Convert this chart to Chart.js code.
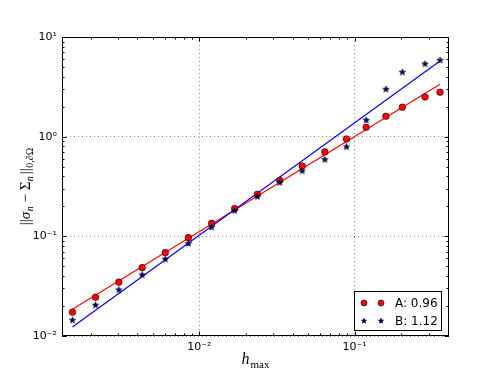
<!DOCTYPE html>
<html>
<head>
<meta charset="utf-8">
<script src="https://cdn.jsdelivr.net/npm/chart.js@4/dist/chart.umd.min.js"></script>
<style>
  body { margin: 0; background: #fff; }
  canvas { display: block; }
</style>
</head>
<body>
<canvas id="convChart" width="498" height="374"></canvas>
<script>
// mesh sizes and errors
const hMax = [0.001525, 0.002147, 0.003034, 0.004289, 0.00604, 0.00851, 0.01202, 0.0169, 0.02367,
              0.0330, 0.0460, 0.0644, 0.0888, 0.1189, 0.1594, 0.2032, 0.2845, 0.3556];
const errA = [0.01733, 0.02449, 0.0347, 0.0485, 0.0686, 0.0970, 0.1352, 0.1897, 0.264,
              0.365, 0.508, 0.703, 0.948, 1.241, 1.603, 1.973, 2.50, 2.79];
const errB = [0.01439, 0.0204, 0.0290, 0.0410, 0.0589, 0.0845, 0.1233, 0.1808, 0.250,
              0.346, 0.453, 0.588, 0.789, 1.462, 2.99, 4.43, 5.36, 5.84];
// fitted lines, values at first and last h
const fitA = [0.01857, 3.36];
const fitB = [0.01234, 5.74];
const seriesNames = ['A', 'B'];
const slopes = ['0.96', '1.12'];

const xTicks = [0.002, 0.003, 0.004, 0.005, 0.006, 0.007, 0.008, 0.009,
                0.01, 0.02, 0.03, 0.04, 0.05, 0.06, 0.07, 0.08, 0.09,
                0.1, 0.2, 0.3, 0.4];
const yTicks = [0.01, 0.02, 0.03, 0.04, 0.05, 0.06, 0.07, 0.08, 0.09,
                0.1, 0.2, 0.3, 0.4, 0.5, 0.6, 0.7, 0.8, 0.9,
                1, 2, 3, 4, 5, 6, 7, 8, 9, 10];
const supLabels = { '-2': '10⁻²', '-1': '10⁻¹', '0': '10⁰', '1': '10¹' };

const isMajor = (v) => {
    const l = Math.log10(v);
    return Math.abs(l - Math.round(l)) < 1e-9;
};

// filled five point star used as marker
const makeStar = (r, fill) => {
    const c = document.createElement('canvas');
    const s = Math.ceil(r * 2 + 2);
    c.width = s; c.height = s;
    const g = c.getContext('2d');
    g.beginPath();
    for (let i = 0; i < 10; i++) {
        const rr = i % 2 === 0 ? r : r * 0.42;
        const a = -Math.PI / 2 + i * Math.PI / 5;
        const px = s / 2 + rr * Math.cos(a), py = s / 2 + rr * Math.sin(a);
        if (i === 0) g.moveTo(px, py); else g.lineTo(px, py);
    }
    g.closePath();
    g.fillStyle = fill;
    g.fill();
    g.lineWidth = 0.6;
    g.strokeStyle = '#000';
    g.stroke();
    return c;
};
const starImg = makeStar(3.4, '#000080');
const starSmall = makeStar(2.8, '#000080');

const pts = (ys) => ys.map((y, i) => ({ x: hMax[i], y: y }));
const endPts = (f) => [{ x: hMax[0], y: f[0] }, { x: hMax[hMax.length - 1], y: f[1] }];

const decorations = {
    id: 'decorations',
    afterDraw(chart) {
        const { ctx, chartArea: a, scales: { x, y } } = chart;
        ctx.save();
        ctx.strokeStyle = '#000';
        ctx.lineWidth = 1;
        ctx.beginPath();
        xTicks.forEach(v => {
            const px = Math.round(x.getPixelForValue(v)) + 0.5;
            const len = isMajor(v) ? 4.5 : 2.5;
            ctx.moveTo(px, a.bottom); ctx.lineTo(px, a.bottom - len);
            ctx.moveTo(px, a.top); ctx.lineTo(px, a.top + len);
        });
        yTicks.forEach(v => {
            const py = Math.round(y.getPixelForValue(v)) + 0.5;
            const len = isMajor(v) ? 4.5 : 2.5;
            ctx.moveTo(a.left, py); ctx.lineTo(a.left + len, py);
            ctx.moveTo(a.right, py); ctx.lineTo(a.right - len, py);
        });
        ctx.stroke();
        ctx.strokeRect(Math.round(a.left) + 0.5, Math.round(a.top) + 0.5,
                       Math.round(a.right - a.left) - 1, Math.round(a.bottom - a.top) - 1);

        // x title: h_max
        ctx.fillStyle = '#000';
        ctx.textBaseline = 'alphabetic';
        ctx.textAlign = 'left';
        const fMain = 'italic 16px "Liberation Serif"';
        const fSub = '11px "Liberation Serif"';
        ctx.font = fMain; const wh = ctx.measureText('h').width;
        ctx.font = fSub; const wm = ctx.measureText('max').width;
        let cx = (a.left + a.right) / 2 - (wh + wm + 1) / 2;
        ctx.font = fMain; ctx.fillText('h', cx, 364);
        ctx.font = fSub; ctx.fillText('max', cx + wh + 1, 368);

        // y title: ||sigma_n - Sigma_n||_{0,dOmega}
        ctx.save();
        ctx.translate(30, (a.top + a.bottom) / 2);
        ctx.rotate(-Math.PI / 2);
        // [text, font, baseline shift, extra gap after]
        const parts = [
            ['||', '15px "Liberation Serif"', 0, 0],
            ['σ', 'italic 15px "Liberation Serif"', 0, 0.5],
            ['n', 'italic 10px "Liberation Serif"', 3, 0],
            [' − ', '15px "Liberation Serif"', 0, 0],
            ['Σ', '15px "Liberation Serif"', 0, 0.5],
            ['n', 'italic 10px "Liberation Serif"', 3, 2],
            ['||', '15px "Liberation Serif"', 0, 0.5],
            ['0,∂Ω', '10px "Liberation Serif"', 3, 0]
        ];
        let total = 0;
        parts.forEach(p => { ctx.font = p[1]; total += ctx.measureText(p[0]).width + p[3]; });
        let tx = -total / 2;
        parts.forEach(p => {
            ctx.font = p[1];
            ctx.fillText(p[0], tx, p[2]);
            tx += ctx.measureText(p[0]).width + p[3];
        });
        ctx.restore();

        // legend box, lower right
        const bx = 354.5, by = 291.5, bw = 87, bh = 39;
        ctx.fillStyle = '#fff';
        ctx.fillRect(bx, by, bw, bh);
        ctx.strokeRect(bx, by, bw, bh);
        ctx.font = '12px "DejaVu Sans"';
        ctx.textBaseline = 'middle';
        const rows = [303, 321];
        [0, 1].forEach(i => {
            [364, 381].forEach(mx => {
                if (i === 0) {
                    ctx.beginPath();
                    ctx.arc(mx, rows[i], 3, 0, Math.PI * 2);
                    ctx.fillStyle = '#ff0000';
                    ctx.fill();
                    ctx.lineWidth = 0.6;
                    ctx.stroke();
                } else {
                    ctx.drawImage(starSmall, mx - starSmall.width / 2, rows[i] - starSmall.height / 2);
                }
            });
            ctx.fillStyle = '#000';
            ctx.fillText(seriesNames[i] + ': ' + slopes[i], 395, rows[i] + 1);
        });
        ctx.restore();
    }
};

const tickFont = { family: 'DejaVu Sans', size: 11 };

new Chart(document.getElementById('convChart'), {
    type: 'scatter',
    data: {
        datasets: [
            {
                label: seriesNames[1],
                data: pts(errB),
                pointStyle: starImg,
                pointRadius: 4
            },
            {
                label: seriesNames[0],
                data: pts(errA),
                pointStyle: 'circle',
                pointRadius: 3.3,
                backgroundColor: '#ff0000',
                borderColor: '#000',
                borderWidth: 0.6
            },
            {
                type: 'line',
                data: endPts(fitB),
                borderColor: '#0000ff',
                borderWidth: 1.2,
                pointRadius: 0
            },
            {
                type: 'line',
                data: endPts(fitA),
                borderColor: '#ff0000',
                borderWidth: 1.2,
                pointRadius: 0
            }
        ]
    },
    options: {
        responsive: false,
        animation: false,
        layout: { padding: { left: 0, right: 49, top: 37, bottom: 0 } },
        plugins: {
            legend: { display: false },
            tooltip: { enabled: false }
        },
        scales: {
            x: {
                type: 'logarithmic',
                min: 0.001306,
                max: 0.406,
                afterBuildTicks: (s) => { s.ticks = xTicks.map(v => ({ value: v })); },
                afterFit: (s) => { s.height = 38; },
                ticks: {
                    autoSkip: false,
                    maxRotation: 0,
                    padding: 5,
                    color: '#000',
                    font: tickFont,
                    callback: (v) => isMajor(v) ? supLabels[String(Math.round(Math.log10(v)))] : ''
                },
                grid: {
                    drawTicks: false,
                    lineWidth: 1,
                    color: (c) => (c.tick && isMajor(c.tick.value)) ? '#888' : 'rgba(0,0,0,0)'
                },
                border: { display: false, dash: [1, 3] }
            },
            y: {
                type: 'logarithmic',
                min: 0.01,
                max: 10,
                afterBuildTicks: (s) => { s.ticks = yTicks.map(v => ({ value: v })); },
                afterFit: (s) => { s.width = 62; },
                ticks: {
                    autoSkip: false,
                    padding: 5,
                    color: '#000',
                    font: tickFont,
                    callback: (v) => isMajor(v) ? supLabels[String(Math.round(Math.log10(v)))] : ''
                },
                grid: {
                    drawTicks: false,
                    lineWidth: 1,
                    color: (c) => (c.tick && isMajor(c.tick.value)) ? '#888' : 'rgba(0,0,0,0)'
                },
                border: { display: false, dash: [1, 3] }
            }
        }
    },
    plugins: [decorations]
});
</script>
</body>
</html>
